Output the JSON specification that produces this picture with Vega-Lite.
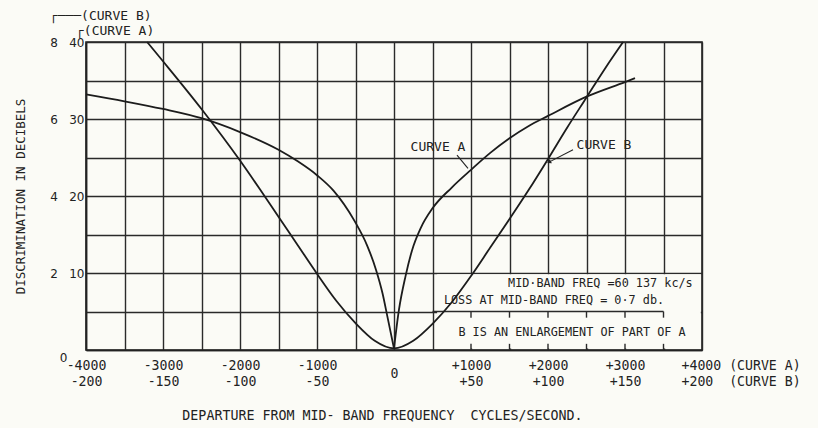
{
  "$schema": "https://vega.github.io/schema/vega-lite/v6.json",
  "width": 616,
  "height": 308,
  "autosize": {"type": "none"},
  "padding": {"left": 86, "top": 42, "right": 116, "bottom": 78},
  "background": "#fbfbf6",
  "config": {
    "font": "DejaVu Sans Mono",
    "view": {"stroke": "#222", "strokeWidth": 1.6},
    "text": {"color": "#222", "font": "DejaVu Sans Mono"}
  },
  "datasets": {
    "curveA": [
      {"side": "L", "cps": -4000, "db": 33.2},
      {"side": "L", "cps": -3500, "db": 32.3},
      {"side": "L", "cps": -3000, "db": 31.3},
      {"side": "L", "cps": -2500, "db": 30.1},
      {"side": "L", "cps": -2000, "db": 28.3},
      {"side": "L", "cps": -1500, "db": 26.0},
      {"side": "L", "cps": -1250, "db": 24.5},
      {"side": "L", "cps": -1000, "db": 22.7},
      {"side": "L", "cps": -786, "db": 20.7},
      {"side": "L", "cps": -509, "db": 16.7},
      {"side": "L", "cps": -350, "db": 13.6},
      {"side": "L", "cps": -233, "db": 10.4},
      {"side": "L", "cps": -150, "db": 7.4},
      {"side": "L", "cps": -85, "db": 4.3},
      {"side": "L", "cps": 0, "db": 0.2},
      {"side": "R", "cps": 0, "db": 0.2},
      {"side": "R", "cps": 64, "db": 5.2},
      {"side": "R", "cps": 150, "db": 9.6},
      {"side": "R", "cps": 233, "db": 12.9},
      {"side": "R", "cps": 350, "db": 15.9},
      {"side": "R", "cps": 500, "db": 18.4},
      {"side": "R", "cps": 750, "db": 21.1},
      {"side": "R", "cps": 1000, "db": 23.4},
      {"side": "R", "cps": 1250, "db": 25.6},
      {"side": "R", "cps": 1500, "db": 27.5},
      {"side": "R", "cps": 1750, "db": 29.1},
      {"side": "R", "cps": 2000, "db": 30.4},
      {"side": "R", "cps": 2500, "db": 32.9},
      {"side": "R", "cps": 3000, "db": 34.8},
      {"side": "R", "cps": 3130, "db": 35.3}
    ],
    "curveB": [
      {"cps": -160.3, "db": 8.0},
      {"cps": -150, "db": 7.5},
      {"cps": -125, "db": 6.26},
      {"cps": -100, "db": 4.92},
      {"cps": -87.5, "db": 4.2},
      {"cps": -75, "db": 3.46},
      {"cps": -62.5, "db": 2.72},
      {"cps": -50, "db": 1.98},
      {"cps": -37.5, "db": 1.28},
      {"cps": -25, "db": 0.7},
      {"cps": -12.5, "db": 0.24},
      {"cps": 0, "db": 0.04},
      {"cps": 12.5, "db": 0.24},
      {"cps": 25, "db": 0.68},
      {"cps": 37.5, "db": 1.24},
      {"cps": 50, "db": 1.92},
      {"cps": 62.5, "db": 2.66},
      {"cps": 75, "db": 3.4},
      {"cps": 87.5, "db": 4.16},
      {"cps": 100, "db": 4.96},
      {"cps": 112.5, "db": 5.78},
      {"cps": 125, "db": 6.56},
      {"cps": 137.5, "db": 7.34},
      {"cps": 148.75, "db": 8.0}
    ],
    "stubs": [
      {"cps": 1000}, {"cps": 1500}, {"cps": 2000}, {"cps": 2500}, {"cps": 3000}, {"cps": 3500}
    ],
    "curveLabels": [
      {"cps": 571, "db": 26.4, "text": "CURVE A"},
      {"cps": 2727, "db": 26.6, "text": "CURVE B"}
    ],
    "leaders": [
      {"cps": 818, "db": 25.3, "cps2": 961, "db2": 23.6},
      {"cps": 2325, "db": 26.0, "cps2": 2013, "db2": 24.4}
    ],
    "arrowTips": [
      {"cps": 2013, "db": 24.4}
    ],
    "notes": [
      {"cps": 2680, "db": 8.7, "text": "MID·BAND FREQ =60 137 kc/s"},
      {"cps": 2078, "db": 6.5, "text": "LOSS AT MID-BAND FREQ = 0·7 db."},
      {"cps": 2312, "db": 2.3, "text": "B IS AN ENLARGEMENT OF PART OF A"}
    ],
    "headers": [
      {"cps": -4470, "db": 43.4, "text": "┌───(CURVE B)"},
      {"cps": -4130, "db": 41.4, "text": "┌(CURVE A)"}
    ]
  },
  "layer": [
    {
      "layer": [
        {
          "data": {"name": "curveA"},
          "mark": {"type": "line", "color": "#1c1c1c", "strokeWidth": 1.8, "interpolate": "monotone"},
          "encoding": {
            "detail": {"field": "side"},
            "x": {
              "field": "cps",
              "type": "quantitative",
              "scale": {"domain": [-4000, 4000], "nice": false, "zero": false},
              "axis": {
                "tickCount": 16,
                "title": "DEPARTURE FROM MID- BAND FREQUENCY\u00a0\u00a0CYCLES/SECOND.",
                "titleFont": "DejaVu Sans Mono",
                "titleFontSize": 13.3,
                "titleFontWeight": "normal",
                "titleColor": "#222",
                "titlePadding": 21,
                "titleX": 296,
                "titleAlign": "center",
                "labelExpr": "datum.value % 1000 != 0 ? '' : datum.value == 0 ? '0' : datum.value == 4000 ? ['+4000 (CURVE A)', '+200\u00a0 (CURVE B)'] : [(datum.value > 0 ? '+' : '-') + abs(datum.value), (datum.value > 0 ? '+' : '-') + abs(datum.value) / 20]",
                "labelFont": "DejaVu Sans Mono",
                "labelFontSize": 13.2,
                "labelColor": "#222",
                "labelLineHeight": 16,
                "labelBaseline": "top",
                "labelAlign": {"condition": {"test": "datum.value == 4000", "value": "left"}, "value": "center"},
                "labelOffset": {"condition": {"test": "datum.value == 4000", "value": -21}, "value": 0},
                "labelPadding": {"condition": {"test": "datum.value == 0", "value": 17}, "value": 9},
                "labelOverlap": false,
                "labelFlush": false,
                "labelBound": false,
                "ticks": false,
                "grid": true,
                "gridColor": "#2a2a2a",
                "gridWidth": 1.4,
                "gridOpacity": 1,
                "domainColor": "#222",
                "domainWidth": 1.6
              }
            },
            "y": {
              "field": "db",
              "type": "quantitative",
              "scale": {"domain": [0, 40], "nice": false, "zero": false},
              "axis": {
                "tickCount": 8,
                "title": "DISCRIMINATION IN DECIBELS",
                "titleFont": "DejaVu Sans Mono",
                "titleFontSize": 12.5,
                "titleFontWeight": "normal",
                "titleColor": "#222",
                "titlePadding": 22,
                "labelExpr": "datum.value % 10 != 0 ? '' : datum.value == 0 ? '0' : (datum.value / 5) + '\u00a0\u00a0\u00a0' + datum.value",
                "labelFont": "DejaVu Sans",
                "labelFontSize": 12,
                "labelColor": "#222",
                "labelPadding": {"condition": {"test": "datum.value == 0", "value": 19}, "value": 2},
                "labelOffset": {"condition": {"test": "datum.value == 0", "value": 7}, "value": 0},
                "labelOverlap": false,
                "labelFlush": false,
                "labelBound": false,
                "ticks": false,
                "grid": true,
                "gridColor": "#2a2a2a",
                "gridWidth": 1.4,
                "gridOpacity": 1,
                "domainColor": "#222",
                "domainWidth": 1.6
              }
            }
          }
        },
        {
          "data": {"values": [{}]},
          "mark": {"type": "rect", "fill": "#fbfbf6", "strokeWidth": 0},
          "encoding": {
            "x": {"datum": 560, "type": "quantitative"},
            "x2": {"datum": 3985},
            "y": {"datum": 0.2, "type": "quantitative"},
            "y2": {"datum": 9.85}
          }
        },
        {
          "data": {"values": [{}]},
          "mark": {"type": "rule", "color": "#2a2a2a", "strokeWidth": 1.4},
          "encoding": {
            "x": {"datum": 500, "type": "quantitative"},
            "x2": {"datum": 3500},
            "y": {"datum": 5, "type": "quantitative"}
          }
        },
        {
          "data": {"name": "stubs"},
          "mark": {"type": "rule", "color": "#2a2a2a", "strokeWidth": 1.4},
          "encoding": {
            "x": {"field": "cps", "type": "quantitative"},
            "y": {"datum": 0, "type": "quantitative"},
            "y2": {"datum": 0.8}
          }
        },
        {
          "data": {"name": "stubs"},
          "mark": {"type": "rule", "color": "#2a2a2a", "strokeWidth": 1.4},
          "encoding": {
            "x": {"field": "cps", "type": "quantitative"},
            "y": {"datum": 5, "type": "quantitative"},
            "y2": {"datum": 4.2}
          }
        },
        {
          "data": {"name": "leaders"},
          "mark": {"type": "rule", "color": "#222", "strokeWidth": 1.1},
          "encoding": {
            "x": {"field": "cps", "type": "quantitative"},
            "y": {"field": "db", "type": "quantitative"},
            "x2": {"field": "cps2"},
            "y2": {"field": "db2"}
          }
        },
        {
          "data": {"name": "arrowTips"},
          "mark": {"type": "point", "shape": "triangle-right", "angle": 153, "size": 22, "filled": true, "color": "#222", "opacity": 1},
          "encoding": {
            "x": {"field": "cps", "type": "quantitative"},
            "y": {"field": "db", "type": "quantitative"}
          }
        },
        {
          "data": {"name": "curveLabels"},
          "mark": {"type": "text", "fontSize": 13, "align": "center", "baseline": "middle"},
          "encoding": {
            "x": {"field": "cps", "type": "quantitative"},
            "y": {"field": "db", "type": "quantitative"},
            "text": {"field": "text"}
          }
        },
        {
          "data": {"name": "notes"},
          "mark": {"type": "text", "fontSize": 11.8, "align": "center", "baseline": "middle"},
          "encoding": {
            "x": {"field": "cps", "type": "quantitative"},
            "y": {"field": "db", "type": "quantitative"},
            "text": {"field": "text"}
          }
        },
        {
          "data": {"name": "headers"},
          "mark": {"type": "text", "fontSize": 13, "align": "left", "baseline": "middle"},
          "encoding": {
            "x": {"field": "cps", "type": "quantitative"},
            "y": {"field": "db", "type": "quantitative"},
            "text": {"field": "text"}
          }
        }
      ]
    },
    {
      "data": {"name": "curveB"},
      "mark": {"type": "line", "color": "#1c1c1c", "strokeWidth": 1.8, "interpolate": "monotone"},
      "encoding": {
        "x": {"field": "cps", "type": "quantitative", "scale": {"domain": [-200, 200], "nice": false, "zero": false}, "axis": null},
        "y": {"field": "db", "type": "quantitative", "scale": {"domain": [0, 8], "nice": false, "zero": false}, "axis": null}
      }
    }
  ],
  "resolve": {"scale": {"x": "independent", "y": "independent"}}
}
